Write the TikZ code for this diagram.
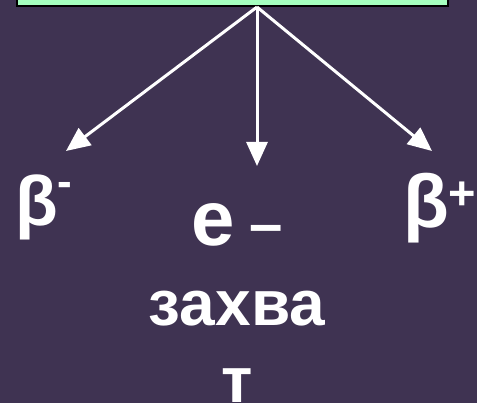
\documentclass[tikz,border=0pt]{standalone}
\usepackage{fontspec}
\setmainfont{Liberation Sans}
\usepackage{tikz}
\usetikzlibrary{arrows.meta,positioning}
\definecolor{bgpurple}{HTML}{3F3352}
\definecolor{boxgreen}{HTML}{A5FFBF}
\tikzset{every node/.append style={inner sep=0pt,text=white,font=\bfseries}}
\tikzset{decay/.style={draw=white,line width=3pt,-{Triangle[length=24pt,width=21pt]}}}
\newcommand{\fs}[1]{\fontsize{#1}{#1}\selectfont}

\begin{document}
\begin{tikzpicture}[x=1pt,y=-1pt]
  \useasboundingbox (0,0) rectangle (477,403);
  \fill[bgpurple] (0,0) rectangle (477,403);
  \node[draw=black,line width=2pt,fill=boxgreen,minimum width=431pt,minimum height=30pt] (nucleus) at (232.5,-9) {};
  \coordinate (src) at ([xshift=24.5pt]nucleus.south);
  \coordinate (tipL) at (66,151);
  \coordinate (tipC) at (257,166);
  \coordinate (tipR) at (432,151);
  \draw[decay] (src) -- (tipL);
  \draw[decay] (src) -- (tipC);
  \draw[decay] (src) -- (tipR);
  \node[anchor=base west] (betam) at (15,226) {\fs{70}β\raisebox{29pt}{\fs{44}-}};
  \node[anchor=base west] (betap) at (403,228) {\fs{75}β\raisebox{18pt}{\fs{47}+}};
  \node[anchor=base] (ecap1) at (237,246) {\fs{78}e\hspace{15pt}\raisebox{1pt}{\fs{60}–}};
  \node[anchor=base] (ecap2) at (237,326) {\fs{64}захва};
  \node[anchor=base] (ecap3) at (237,403) {\fs{64}т};
\end{tikzpicture}
\end{document}
